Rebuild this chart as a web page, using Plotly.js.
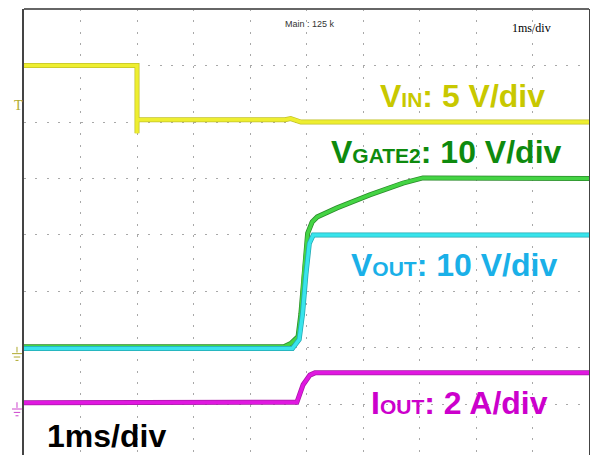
<!DOCTYPE html>
<html>
<head>
<meta charset="utf-8">
<script src="https://cdn.plot.ly/plotly-3.0.1.min.js"></script>
<style>
  html, body { margin: 0; padding: 0; background: #fff; overflow: hidden; }
</style>
</head>
<body>
<div id="scope" style="width:590px;height:455px;"></div>
<script>
// time in ms (1 ms per division), levels in screen divisions
const vinTime = [0, 2.0, 2.0, 2.0, 4.62, 4.72, 4.9, 10];
const vinLevel = [7.0, 7.0, 5.8, 6.04, 6.04, 6.06, 6.0, 6.0];

const gateTime = [0, 4.6, 4.72, 4.85, 4.9, 4.95, 5.02, 5.1, 5.19, 5.54, 6.12, 6.71, 7.06, 10];
const gateLevel = [2.02, 2.02, 2.08, 2.2, 2.6, 3.3, 4.03, 4.23, 4.32, 4.48, 4.71, 4.92, 5.01, 5.0];

const voutTime = [0, 4.75, 4.87, 4.93, 4.99, 5.05, 5.12, 10];
const voutLevel = [1.99, 1.99, 2.15, 2.6, 3.3, 3.85, 4.0, 4.0];

const ioutTime = [0, 4.8, 4.83, 4.94, 5.06, 5.15, 10];
const ioutLevel = [1.03, 1.03, 1.04, 1.35, 1.52, 1.56, 1.56];

const channels = [
  { name: "VGATE2", x: gateTime, y: gateLevel, edge: "#2a8a2a", core: "#44d444" },
  { name: "VOUT", x: voutTime, y: voutLevel, edge: "#22a8b2", core: "#38e4ec" },
  { name: "VIN", x: vinTime, y: vinLevel, edge: "#c2c228", core: "#eeee30" },
  { name: "IOUT", x: ioutTime, y: ioutLevel, edge: "#a818a8", core: "#e018e0" },
];

const traces = [];
channels.forEach((ch) => {
  traces.push({ x: ch.x, y: ch.y, mode: "lines", type: "scatter", hoverinfo: "skip",
    line: { color: ch.edge, width: 5 }, showlegend: false });
  traces.push({ x: ch.x, y: ch.y, mode: "lines", type: "scatter", name: ch.name,
    line: { color: ch.core, width: 3.5 }, showlegend: false });
});

const labelFont = "Liberation Sans, Arial, sans-serif";
const sub = (s) => '<span style="font-size:21px">' + s + "</span>";

const annotations = [
  { x: 6.27, y: 6.46, text: "<b>V" + sub("IN") + ": 5 V/div</b>", color: "#c8c800" },
  { x: 5.4, y: 5.47, text: "<b>V" + sub("GATE2") + ": 10 V/div</b>", color: "#0e8a0e" },
  { x: 5.75, y: 3.47, text: "<b>V" + sub("OUT") + ": 10 V/div</b>", color: "#1ab0e8" },
  { x: 6.1, y: 1.02, text: "<b>I" + sub("OUT") + ": 2 A/div</b>", color: "#cc00cc" },
  { x: 0.37, y: 0.44, text: "<b>1ms/div</b>", color: "#000000" },
].map((a) => ({
  x: a.x, y: a.y, xref: "x", yref: "y", xanchor: "left", yanchor: "middle",
  text: a.text, showarrow: false, font: { family: labelFont, size: 32, color: a.color },
}));

annotations.push(
  { x: 0.506, y: 0.982, xref: "paper", yref: "paper", text: "Main : 125 k", showarrow: false,
    font: { family: labelFont, size: 9, color: "#333" } },
  { x: 0.936, y: 0.978, xref: "paper", yref: "paper", text: "1ms/div", showarrow: false,
    font: { family: "Liberation Serif, serif", size: 12, color: "#000" } },
  { x: -0.022, y: 6.3, xref: "paper", yref: "y", text: "T", showarrow: false,
    font: { family: "Liberation Serif, serif", size: 14, color: "#b0aa30" } }
);

// ground markers on the left edge
function ground(yDiv, color) {
  const cx = -0.0124;
  const w = 0.0088;
  const out = [];
  out.push({ type: "line", xref: "paper", yref: "y", x0: cx, x1: cx, y0: yDiv + 0.12, y1: yDiv + 0.02,
    line: { color: color, width: 1 } });
  [1, 0.65, 0.3].forEach((f, i) => {
    out.push({ type: "line", xref: "paper", yref: "y", x0: cx - w * f, x1: cx + w * f,
      y0: yDiv - i * 0.06, y1: yDiv - i * 0.06, line: { color: color, width: 1 } });
  });
  return out;
}

const shapes = [
  { type: "line", xref: "paper", yref: "paper", x0: 0, x1: 1, y0: 1, y1: 1,
    line: { color: "#666", width: 2 } },
  ...ground(1.9, "#b0aa30"),
  ...ground(0.92, "#cc44cc"),
];

const layout = {
  width: 590,
  height: 455,
  margin: { l: 24, r: 1, t: 9, b: 0 },
  paper_bgcolor: "#fff",
  plot_bgcolor: "#fff",
  showlegend: false,
  xaxis: {
    range: [0, 10], dtick: 1, showticklabels: false, ticks: "", zeroline: false,
    showgrid: true, gridcolor: "#a8a8a8", gridwidth: 1, griddash: "2px,9.3px", showline: false,
  },
  yaxis: {
    range: [0.106, 8], dtick: 1, showticklabels: false, ticks: "", zeroline: false,
    showgrid: true, gridcolor: "#a8a8a8", gridwidth: 1, griddash: "2px,9.3px",
    showline: true, linecolor: "#444", linewidth: 2.5, mirror: true,
  },
  annotations: annotations,
  shapes: shapes,
};

Plotly.newPlot("scope", traces, layout, { displayModeBar: false, staticPlot: true });
</script>
</body>
</html>
